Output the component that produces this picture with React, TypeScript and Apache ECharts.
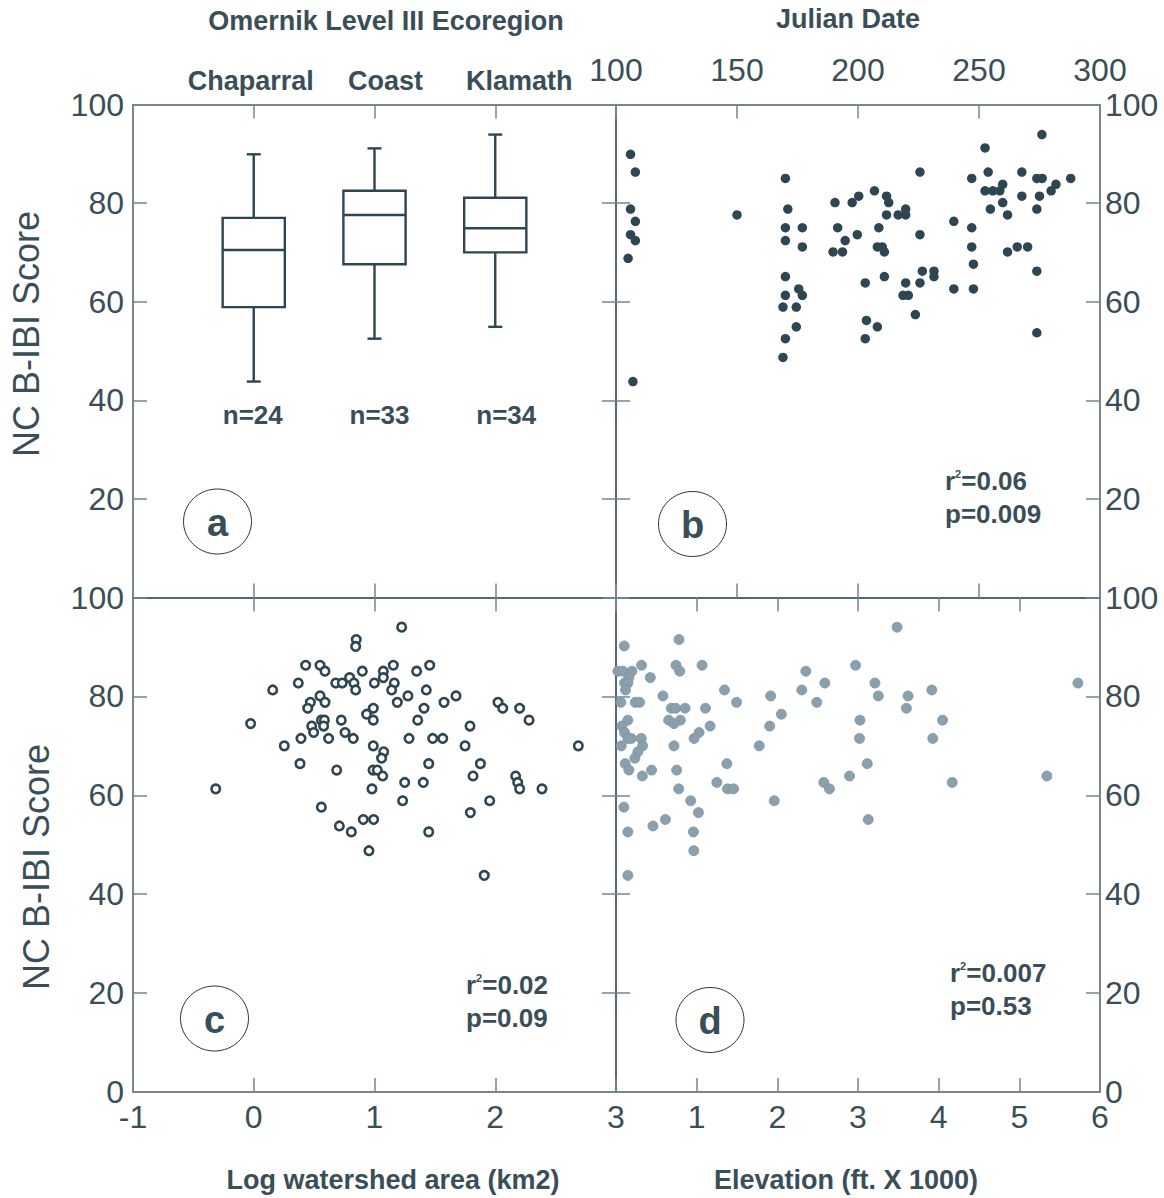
import React, { useEffect, useRef } from 'react';
import * as echarts from 'echarts';

// ---------- data ----------
const ecoregions = ['Chaparral', 'Coast', 'Klamath'];
const boxLow = [43.8, 52.5, 54.9];
const boxQ1 = [58.9, 67.6, 70.0];
const boxMedian = [70.5, 77.6, 74.9];
const boxQ3 = [77.0, 82.5, 81.1];
const boxHigh = [89.9, 91.1, 93.9];
const sampleSizes = [24, 33, 34];

const julianDate = [
  106, 108, 106, 108, 106, 108, 105, 107, 150, 170, 171, 170, 177, 170, 177, 170, 175.5, 170, 177, 169,
  174.5, 174.5, 170, 169, 190.5, 197.6, 200.3, 206.8, 211.8, 212.7, 211.8, 216.6, 219.7, 219.7, 191.6,
  208.6, 194.7, 199.7, 189.7, 193.6, 208, 210, 210.9, 225.6, 225.6, 203, 210.9, 219.7, 218.6, 220.8,
  225.6, 226.6, 231.4, 231.4, 223.7, 203.5, 208, 203, 239.6, 247, 247, 247.7, 239.6, 247.7, 247, 252.5,
  253.8, 252.5, 255.7, 258.6, 259.8, 254.7, 259.8, 261.8, 267.7, 267.7, 261.8, 265.8, 270.1, 273.9,
  276.1, 276, 275, 273.9, 279.8, 281.8, 287.9, 273.9, 273.9,
];
const julianScore = [
  89.9, 86.3, 78.8, 76.3, 73.6, 72.4, 68.8, 43.8, 77.6, 85.0, 78.8, 75.0, 75.0, 72.4, 71.1, 65.1, 62.6, 61.3, 61.3, 58.9,
  58.9, 54.9, 52.5, 48.7, 80.1, 80.1, 81.4, 82.5, 81.4, 80.1, 77.6, 77.6, 78.8, 77.6, 75.0,
  75.0, 72.4, 73.6, 70.1, 70.1, 71.1, 71.1, 70.1, 86.3, 73.6, 63.8, 65.1, 63.8, 61.3, 61.3,
  63.8, 66.2, 66.2, 65.1, 57.4, 56.2, 54.9, 52.5, 76.3, 75.0, 71.1, 67.6, 62.6, 62.6, 85.0, 91.2,
  86.3, 82.5, 82.5, 82.5, 83.8, 78.8, 80.1, 77.6, 86.3, 81.4, 70.1, 71.1, 71.1, 85.0,
  85.0, 93.9, 81.4, 78.8, 82.5, 83.8, 85.0, 66.2, 53.7,
];

const logArea = [
  1.225, 0.849, 0.844, 0.43, 0.549, 0.59, 0.899, 1.073, 1.156, 1.349, 1.457, 0.369, 0.157, 0.679, 0.733, 0.794,
  0.83, 0.844, 0.999, 1.073, 1.164, 1.142, 1.429, 0.549, 0.469, 0.59, 0.447, 1.189, 1.277, 0.99, 1.41, 1.576,
  1.675, 2.023, 2.062, 2.202, 2.28, -0.026, 0.56, 0.585, 0.725, 0.935, 0.99, 1.358, 0.48, 0.579, 0.496, 0.756,
  1.791, 0.253, 0.391, 0.62, 0.824, 1.286, 1.482, 1.565, 1.75, 2.688, 0.99, 1.076, 1.059, 0.383, 1.449, 1.877,
  0.687, 0.988, 1.023, 1.068, 1.816, 2.169, 2.186, 1.25, 1.404, -0.315, 0.979, 2.202, 2.387, 1.233, 1.954, 0.56,
  1.794, 0.907, 0.993, 0.709, 0.808, 1.449, 0.954, 1.909,
];
const logAreaScore = [
  94.0, 91.5, 90.1, 86.3, 86.3, 85.1, 85.1, 85.1, 86.3, 85.1, 86.3, 82.7, 81.3, 82.7, 82.7, 83.8,
  82.7, 81.3, 82.7, 83.8, 82.7, 81.3, 81.3, 80.1, 78.8, 78.8, 77.6, 78.8, 80.1, 77.6, 77.6, 78.8,
  80.1, 78.8, 77.6, 77.6, 75.2, 74.5, 75.2, 75.2, 75.2, 76.4, 75.2, 75.2, 74.0, 74.0, 72.7, 72.7,
  74.0, 70.0, 71.5, 71.5, 71.5, 71.5, 71.5, 71.5, 70.0, 70.0, 70.0, 68.8, 67.5, 66.4, 66.4, 66.4,
  65.1, 65.1, 65.1, 63.9, 63.9, 63.9, 62.6, 62.6, 62.6, 61.3, 61.3, 61.3, 61.3, 58.9, 58.9, 57.6,
  56.5, 55.1, 55.1, 53.8, 52.6, 52.6, 48.8, 43.8,
];

const elevation = [
  3.484, 0.102, 0.781, 0.317, 0.744, 1.067, 2.97, 0.023, 0.085, 0.197, 0.79, 2.353, 0.425, 0.16, 0.106, 0.147,
  2.589, 3.21, 5.726, 0.118, 1.345, 2.303, 3.915, 0.582, 1.917, 3.252, 3.621, 0.06, 0.239, 0.292, 1.495, 2.489,
  0.686, 0.74, 0.856, 1.109, 3.6, 2.05, 0.147, 0.653, 0.798, 3.024, 4.048, 0.719, 0.072, 1.167, 1.905, 0.106,
  1.03, 0.147, 0.189, 0.313, 0.968, 3.019, 3.927, 0.065, 0.33, 0.719, 1.776, 0.271, 0.234, 0.114, 1.374, 3.115,
  0.16, 0.441, 0.752, 0.326, 2.895, 5.341, 1.25, 2.576, 4.168, 0.777, 1.383, 1.457, 2.646, 0.926, 1.962, 0.097,
  1.022, 0.612, 3.127, 0.458, 0.147, 0.96, 0.964, 0.147,
];
const elevationScore = [
  94.0, 90.2, 91.5, 86.3, 86.3, 86.3, 86.3, 85.1, 85.1, 85.1, 85.1, 85.1, 83.8, 83.8, 82.7, 82.7,
  82.7, 82.7, 82.7, 81.3, 81.3, 81.3, 81.3, 80.1, 80.1, 80.1, 80.1, 78.8, 78.8, 78.8, 78.8, 78.8,
  77.6, 77.6, 77.6, 77.6, 77.6, 76.4, 75.2, 75.2, 75.2, 75.2, 75.2, 74.5, 74.0, 74.0, 74.0, 72.7,
  72.7, 71.5, 71.5, 71.5, 71.5, 71.5, 71.5, 70.0, 70.0, 70.0, 70.0, 68.8, 67.5, 66.4, 66.4, 66.4,
  65.1, 65.1, 65.1, 63.9, 63.9, 63.9, 62.6, 62.6, 62.6, 61.3, 61.3, 61.3, 61.3, 58.9, 58.9, 57.6,
  56.5, 55.1, 55.1, 53.8, 52.6, 52.6, 48.8, 43.8,
];

const panelLetters = ['a', 'b', 'c', 'd'];
const rSquared = ['0.06', '0.02', '0.007'];
const pValues = ['0.009', '0.09', '0.53'];

// ---------- styles ----------
const FONT = '"Liberation Sans", Arial, sans-serif';
const TEXT = '#3a4e58';
const DARK = '#2e4652';
const FRAME = '#4b5f69';
const TICK = '#74878f';
const LIGHT = '#8aa0ae';
const N_LABEL_SHIFT = [-1, 5, 11];

function makeAxis(
  gridIndex: number,
  position: string,
  min: number,
  max: number,
  interval: number,
  label: any
) {
  return {
    type: 'value',
    gridIndex,
    position,
    min,
    max,
    interval,
    axisLine: { show: true, onZero: false, lineStyle: { color: FRAME, width: 1.5 } },
    axisTick: { show: true, inside: true, length: 14, lineStyle: { color: TICK, width: 1.5 } },
    axisLabel: label
      ? { show: true, color: TEXT, fontFamily: FONT, fontSize: 32, ...label }
      : { show: false },
    splitLine: { show: false },
  };
}

export default function App() {
  const ref = useRef<HTMLDivElement>(null);

  useEffect(() => {
    if (!ref.current) return;
    const chart = echarts.init(ref.current, undefined, { renderer: 'svg' });

    const grids = [
      { left: 133, top: 104.5, width: 483, height: 493 },
      { left: 616, top: 104.5, width: 484, height: 493 },
      { left: 133, top: 597.5, width: 483, height: 494.5 },
      { left: 616, top: 597.5, width: 484, height: 494.5 },
    ];

    const catRich: any = {};
    const catPad = [[0, 6, 0, 0], [0, 0, 0, 22], [0, 0, 0, 48]];
    ecoregions.forEach((_, i) => {
      catRich['c' + i] = {
        fontFamily: FONT,
        fontSize: 27,
        fontWeight: 'bold',
        color: TEXT,
        padding: catPad[i],
      };
    });

    const xAxis = [
      makeAxis(0, 'bottom', -1, 3, 1, null),
      makeAxis(0, 'top', -1, 3, 1, {
        margin: 10,
        formatter: (v: number) => {
          const i = Math.round(v);
          if (i !== v || i < 0 || i >= ecoregions.length) return '';
          return `{c${i}|${ecoregions[i]}}`;
        },
        rich: catRich,
      }),
      makeAxis(1, 'bottom', 100, 300, 50, null),
      makeAxis(1, 'top', 100, 300, 50, { margin: 19 }),
      makeAxis(2, 'bottom', -1, 3, 1, { margin: 9 }),
      makeAxis(2, 'top', -1, 3, 1, null),
      makeAxis(3, 'bottom', 0, 6, 1, { margin: 9, showMinLabel: false }),
      makeAxis(3, 'top', 0, 6, 1, null),
    ];
    const yAxis = [
      makeAxis(0, 'left', 0, 100, 20, { margin: 9, showMinLabel: false }),
      makeAxis(0, 'right', 0, 100, 20, null),
      makeAxis(1, 'left', 0, 100, 20, null),
      makeAxis(1, 'right', 0, 100, 20, { margin: 5, showMinLabel: false, padding: [0, 0, 6, 0] }),
      makeAxis(2, 'left', 0, 100, 20, { margin: 9 }),
      makeAxis(2, 'right', 0, 100, 20, null),
      makeAxis(3, 'left', 0, 100, 20, null),
      makeAxis(3, 'right', 0, 100, 20, { margin: 5, padding: [0, 0, 6, 0] }),
    ];

    const boxData = ecoregions.map((_, i) => [
      i,
      boxLow[i],
      boxQ1[i],
      boxMedian[i],
      boxQ3[i],
      boxHigh[i],
      sampleSizes[i],
    ]);

    const lineStyle = { stroke: DARK, lineWidth: 2.4, fill: 'none' };

    const series: any[] = [
      {
        type: 'custom',
        xAxisIndex: 0,
        yAxisIndex: 0,
        clip: false,
        encode: { x: 0, y: [1, 2, 3, 4, 5] },
        data: boxData,
        renderItem: (params: any, api: any) => {
          const x = api.value(0);
          const lo = api.coord([x, api.value(1)]);
          const q1 = api.coord([x, api.value(2)]);
          const med = api.coord([x, api.value(3)]);
          const q3 = api.coord([x, api.value(4)]);
          const hi = api.coord([x, api.value(5)]);
          const nPos = api.coord([x, 37]);
          const halfBox = api.size([0.515, 0])[0] / 2;
          const halfCap = 7;
          const cx = lo[0];
          return {
            type: 'group',
            children: [
              { type: 'line', shape: { x1: cx, y1: hi[1], x2: cx, y2: q3[1] }, style: lineStyle },
              { type: 'line', shape: { x1: cx, y1: q1[1], x2: cx, y2: lo[1] }, style: lineStyle },
              { type: 'line', shape: { x1: cx - halfCap, y1: hi[1], x2: cx + halfCap, y2: hi[1] }, style: lineStyle },
              { type: 'line', shape: { x1: cx - halfCap, y1: lo[1], x2: cx + halfCap, y2: lo[1] }, style: lineStyle },
              {
                type: 'rect',
                shape: { x: cx - halfBox, y: q3[1], width: halfBox * 2, height: q1[1] - q3[1] },
                style: { fill: '#fff', stroke: DARK, lineWidth: 2.4 },
              },
              { type: 'line', shape: { x1: cx - halfBox, y1: med[1], x2: cx + halfBox, y2: med[1] }, style: lineStyle },
              {
                type: 'text',
                style: {
                  text: 'n=' + api.value(6),
                  x: nPos[0] + N_LABEL_SHIFT[params.dataIndex],
                  y: nPos[1],
                  align: 'center',
                  verticalAlign: 'middle',
                  fontFamily: FONT,
                  fontSize: 26,
                  fontWeight: 'bold',
                  fill: TEXT,
                },
              },
            ],
          };
        },
      },
      {
        type: 'scatter',
        xAxisIndex: 3,
        yAxisIndex: 2,
        symbol: 'circle',
        symbolSize: 9.5,
        itemStyle: { color: DARK, opacity: 1 },
        data: julianDate.map((d, i) => [d, julianScore[i]]),
      },
      {
        type: 'scatter',
        xAxisIndex: 4,
        yAxisIndex: 4,
        symbol: 'circle',
        symbolSize: 8.5,
        itemStyle: { color: '#ffffff', borderColor: DARK, borderWidth: 2.6, opacity: 1 },
        data: logArea.map((d, i) => [d, logAreaScore[i]]),
      },
      {
        type: 'scatter',
        xAxisIndex: 6,
        yAxisIndex: 6,
        symbol: 'circle',
        symbolSize: 10,
        itemStyle: { color: LIGHT, borderColor: '#7d93a1', borderWidth: 0.8, opacity: 1 },
        data: elevation.map((d, i) => [d, elevationScore[i]]),
      },
    ];

    const boldTitle = (text: string, x: number, y: number) => ({
      type: 'text',
      x,
      y,
      style: {
        text,
        align: 'center',
        verticalAlign: 'middle',
        fontFamily: FONT,
        fontSize: 27,
        fontWeight: 'bold',
        fill: TEXT,
      },
    });

    const vertTitle = (x: number, y: number) => ({
      type: 'text',
      x,
      y,
      rotation: Math.PI / 2,
      style: {
        text: 'NC B-IBI Score',
        align: 'center',
        verticalAlign: 'middle',
        fontFamily: FONT,
        fontSize: 36,
        fill: TEXT,
      },
    });

    const letterCenters = [
      [217.5, 521.5],
      [692.5, 524],
      [214.5, 1018.5],
      [710, 1020],
    ];
    const letterEls: any[] = [];
    panelLetters.forEach((l, i) => {
      const [cx, cy] = letterCenters[i];
      letterEls.push({
        type: 'ellipse',
        shape: { cx, cy, rx: 34, ry: 32.5 },
        style: { fill: '#fff', stroke: '#333', lineWidth: 1 },
      });
      letterEls.push({
        type: 'text',
        x: cx,
        y: cy + 1,
        style: {
          text: l,
          align: 'center',
          verticalAlign: 'middle',
          fontFamily: FONT,
          fontSize: 38,
          fontWeight: 'bold',
          fill: TEXT,
        },
      });
    });

    const statPos = [
      [945, 481],
      [466, 985],
      [950, 973],
    ];
    const statRich = {
      b: { fontFamily: FONT, fontSize: 26, fontWeight: 'bold', fill: TEXT, color: TEXT },
      s: { fontFamily: FONT, fontSize: 11, fontWeight: 'bold', fill: TEXT, color: TEXT, verticalAlign: 'top' },
    };
    const statEls: any[] = [];
    statPos.forEach(([x, y], i) => {
      statEls.push({
        type: 'text',
        x,
        y,
        style: {
          text: `{b|r}{s|2}{b|=${rSquared[i]}}`,
          rich: statRich,
          align: 'left',
          verticalAlign: 'middle',
        },
      });
      statEls.push({
        type: 'text',
        x,
        y: y + 33,
        style: {
          text: `p=${pValues[i]}`,
          align: 'left',
          verticalAlign: 'middle',
          fontFamily: FONT,
          fontSize: 26,
          fontWeight: 'bold',
          fill: TEXT,
        },
      });
    });

    chart.setOption({
      animation: false,
      backgroundColor: '#ffffff',
      grid: grids,
      xAxis,
      yAxis,
      series,
      graphic: [
        boldTitle('Omernik Level III Ecoregion', 386, 21),
        boldTitle('Julian Date', 848, 19),
        boldTitle('Log watershed area (km2)', 393, 1180),
        boldTitle('Elevation (ft. X 1000)', 846, 1180),
        vertTitle(26, 334),
        vertTitle(36, 867),
        ...letterEls,
        ...statEls,
      ],
    });

    return () => chart.dispose();
  }, []);

  return (
    <div
      ref={ref}
      style={{ position: 'absolute', left: 0, top: 0, width: 1164, height: 1198, background: '#fff' }}
    />
  );
}
